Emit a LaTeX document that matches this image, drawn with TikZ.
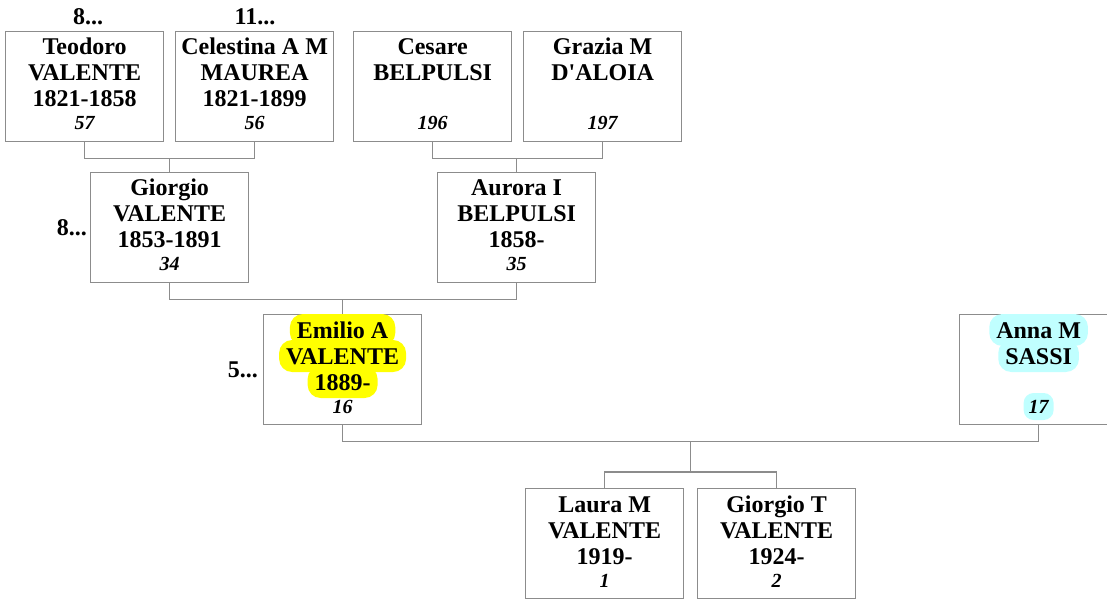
\documentclass[tikz,border=0pt]{standalone}
\usepackage{fontspec}
\setmainfont{Liberation Serif}
\usetikzlibrary{calc}
\definecolor{lncol}{RGB}{140,140,140}
\definecolor{hlyel}{RGB}{255,255,0}
\definecolor{hlcyan}{RGB}{192,255,255}
\tikzset{
  pbox/.style={draw=lncol, line width=1.2pt, minimum width=158pt, minimum height=110pt, inner sep=0pt, anchor=north west},
  nm/.style={font=\bfseries\fontsize{24}{26}\selectfont, anchor=base, inner sep=0pt},
  num/.style={font=\bfseries\itshape\fontsize{20}{24}\selectfont, anchor=base, inner sep=0pt},
  hl/.style={fill=#1, rounded corners=13pt, inner xsep=7pt, inner ysep=0pt, text height=24pt, text depth=8pt},
  conn/.style={draw=lncol, line width=1.2pt},
  more/.style={font=\bfseries\fontsize{24}{26}\selectfont, inner sep=0pt}
}
\begin{document}
\begin{tikzpicture}[x=1pt,y=-1pt]
\useasboundingbox (0,0) rectangle (1107,601);
\clip (0,0) rectangle (1107,601);
% boxes
\node[pbox] (teo) at (5,31) {};
\node[pbox] (cel) at (175,31) {};
\node[pbox] (ces) at (353,31) {};
\node[pbox] (gra) at (523,31) {};
\node[pbox] (gio) at (90,172) {};
\node[pbox] (aur) at (437,172) {};
\node[pbox] (emi) at (263,314) {};
\node[pbox] (ann) at (959,314) {};
\node[pbox] (lau) at (525,488) {};
\node[pbox] (git) at (697,488) {};
% texts
\path (teo.north) ++(0,24) node[nm] (teo1) {Teodoro}
      (teo.north) ++(0,50) node[nm] (teo2) {VALENTE}
      (teo.north) ++(0,76) node[nm] (teo3) {1821-1858}
      (teo.north) ++(0,99) node[num] (teo4) {57};
\path (cel.north) ++(0,24) node[nm] (cel1) {Celestina A M}
      (cel.north) ++(0,50) node[nm] (cel2) {MAUREA}
      (cel.north) ++(0,76) node[nm] (cel3) {1821-1899}
      (cel.north) ++(0,99) node[num] (cel4) {56};
\path (ces.north) ++(0,24) node[nm] (ces1) {Cesare}
      (ces.north) ++(0,50) node[nm] (ces2) {BELPULSI}
      (ces.north) ++(0,99) node[num] (ces4) {196};
\path (gra.north) ++(0,24) node[nm] (gra1) {Grazia M}
      (gra.north) ++(0,50) node[nm] (gra2) {D\textquotesingle ALOIA}
      (gra.north) ++(0,99) node[num] (gra4) {197};
\path (gio.north) ++(0,24) node[nm] (gio1) {Giorgio}
      (gio.north) ++(0,50) node[nm] (gio2) {VALENTE}
      (gio.north) ++(0,76) node[nm] (gio3) {1853-1891}
      (gio.north) ++(0,99) node[num] (gio4) {34};
\path (aur.north) ++(0,24) node[nm] (aur1) {Aurora I}
      (aur.north) ++(0,50) node[nm] (aur2) {BELPULSI}
      (aur.north) ++(0,76) node[nm] (aur3) {1858-}
      (aur.north) ++(0,99) node[num] (aur4) {35};
\path (emi.north) ++(0,76) node[nm,hl=hlyel] (emi3) {1889-}
      (emi.north) ++(0,50) node[nm,hl=hlyel] (emi2) {VALENTE}
      (emi.north) ++(0,24) node[nm,hl=hlyel] (emi1) {Emilio A}
      (emi.north) ++(0,99) node[num] (emi4) {16};
\path (ann.north) ++(0,50) node[nm,hl=hlcyan] (ann2) {SASSI}
      (ann.north) ++(0,24) node[nm,hl=hlcyan] (ann1) {Anna M}
      (ann.north) ++(0,99) node[num,hl=hlcyan,inner xsep=5pt,rounded corners=10pt,text height=20pt,text depth=7pt] (ann4) {17};
\path (lau.north) ++(0,24) node[nm] (lau1) {Laura M}
      (lau.north) ++(0,50) node[nm] (lau2) {VALENTE}
      (lau.north) ++(0,76) node[nm] (lau3) {1919-}
      (lau.north) ++(0,99) node[num] (lau4) {1};
\path (git.north) ++(0,24) node[nm] (git1) {Giorgio T}
      (git.north) ++(0,50) node[nm] (git2) {VALENTE}
      (git.north) ++(0,76) node[nm] (git3) {1924-}
      (git.north) ++(0,99) node[num] (git4) {2};
% more labels
\node[more, anchor=base] (mteo) at (88,25) {8...};
\node[more, anchor=base] (mcel) at (255,25) {11...};
\node[more, anchor=base east] (mgio) at (87,236) {8...};
\node[more, anchor=base east] (memi) at (258,377) {5...};
% connectors
\draw[conn] (teo.south) -- ++(0,16) coordinate (a1) -| (cel.south);
\draw[conn] (gio.north) -- (gio.north |- a1);
\draw[conn] (ces.south) -- ++(0,16) coordinate (a2) -| (gra.south);
\draw[conn] (aur.north) -- (aur.north |- a2);
\draw[conn] (gio.south) -- ++(0,16) coordinate (a3) -| (aur.south);
\draw[conn] (emi.north) -- (emi.north |- a3);
\draw[conn] (emi.south) -- ++(0,16) coordinate (a4) -| (ann.south);
\coordinate (mid) at ($(emi.south)!.5!(ann.south)+(0,16)$);
\draw[conn] (lau.north) -- ++(0,-16) coordinate (b5) -| (git.north);
\draw[conn] (mid) -- (mid |- b5);
\end{tikzpicture}
\end{document}
